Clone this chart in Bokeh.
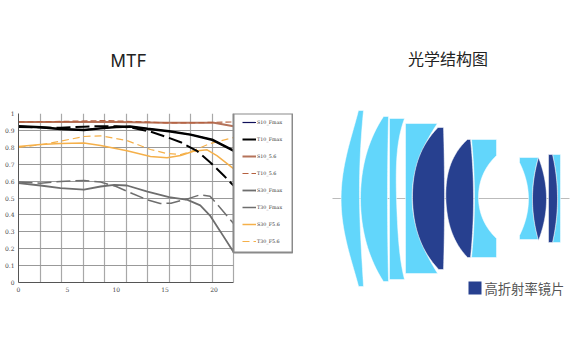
import numpy as np
from bokeh.plotting import figure
from bokeh.layouts import row
from bokeh.models import Range1d, FixedTicker, Legend, LegendItem, Title
from bokeh.core.properties import value
from bokeh.embed import file_html
from bokeh.resources import INLINE

# ---- MTF data ----
s10_fmax_x = [0, 2.25, 4.3, 6.7, 8.4, 10, 11.4, 13.2, 15.4, 17.6, 19.8, 21, 22]
s10_fmax_y = [.925, .918, .908, .903, .912, .92, .923, .91, .895, .875, .845, .81, .78]
t10_fmax_x = [0, 2.25, 4.3, 6.7, 8.4, 10, 11.4, 13.5, 15.2, 16.6, 18.3, 19.6, 21, 22]
t10_fmax_y = [.92, .918, .915, .922, .925, .925, .918, .893, .86, .83, .777, .712, .633, .574]
s10_56_x = [0, 5, 10, 15, 18, 20, 22]
s10_56_y = [.95, .95, .95, .945, .945, .945, .925]
t10_56_x = [0, 3, 6, 9, 12, 15, 18, 20, 22]
t10_56_y = [.95, .952, .955, .958, .952, .945, .945, .948, .95]
s30_fmax_x = [0, 2.25, 4.3, 6.7, 8.4, 9.8, 11.1, 13.2, 15.4, 17.3, 18.6, 19.6, 20.7, 22]
s30_fmax_y = [.588, .574, .558, .55, .568, .578, .574, .538, .505, .489, .456, .396, .298, .18]
t30_fmax_x = [0, 2.25, 4.3, 6.7, 8.4, 10, 11.7, 13.2, 14.5, 15.6, 17.3, 18.6, 19.6, 20.7, 22]
t30_fmax_y = [.595, .588, .598, .604, .594, .568, .525, .489, .468, .469, .495, .519, .511, .438, .349]
s30_f56_x = [0, 2.25, 4.3, 6.7, 8.4, 11.1, 13.5, 15.2, 16.6, 17.9, 19.3, 20.3, 22]
s30_f56_y = [.805, .817, .823, .826, .81, .78, .745, .738, .751, .777, .785, .751, .674]
t30_f56_x = [0, 2.25, 4.3, 6.7, 8.4, 11.1, 13.5, 15.2, 16.6, 17.9, 19.6, 22]
t30_f56_y = [.80, .815, .836, .864, .868, .84, .787, .763, .757, .78, .822, .858]
x_tick_labels = [0, 5, 10, 15, 20]
x_grid_values = [0, 2.2, 4.4, 6.6, 8.8, 11, 13.2, 15.4, 17.6, 19.8, 22]
y_tick_values = [0, .1, .2, .3, .4, .5, .6, .7, .8, .9, 1]
y_tick_labels = ["0", "0.1", "0.2", "0.3", "0.4", "0.5", "0.6", "0.7", "0.8", "0.9", "1"]
legend_names = ["S10_Fmax", "T10_Fmax", "S10_5.6", "T10_5.6", "S30_Fmax", "T30_Fmax", "S30_F5.6", "T30_F5.6"]
legend_box_left = [22]
legend_box_right = [28.04]
legend_box_top = [1]
legend_box_bottom = [.178]

# ---- lens outlines, traced: each lens is a list of edges (x, y control points) ----
optical_axis_x = [332, 569]
optical_axis_y = [198, 198]
lens_light = [
    [[(358, 110), (347, 150), (341, 198), (343, 230), (352, 263), (358, 286)],
     [(363, 286), (360, 233), (359, 198), (360, 150), (363, 110)]],
    [[(383, 116), (372, 137), (364, 160), (360, 198), (362, 223), (368, 250), (383, 281)],
     [(388, 281), (387, 198), (388, 116)]],
    [[(404, 118), (396, 163), (396, 198), (397, 223), (404, 279)],
     [(389, 279), (389, 118)]],
    [[(405, 123), (437, 123)],
     [(437, 123), (428, 137), (418, 160), (412, 198), (415, 227), (425, 250), (437, 273)],
     [(405, 273), (405, 123)]],
    [[(471, 139), (496, 139), (496, 155)],
     [(496, 155), (483, 173), (478, 197), (483, 220), (496, 238)],
     [(496, 257), (471, 257)],
     [(471, 257), (474, 197), (471, 139)]],
    [[(519, 157), (538, 157)],
     [(538, 157), (532, 198), (538, 239)],
     [(519, 239), (519, 235)],
     [(519, 235), (528, 198), (519, 162)]],
    [[(552, 154), (560, 154), (560, 242), (552, 242)],
     [(552, 242), (557, 198), (552, 154)]],
]
lens_dark = [
    [[(438, 127), (428, 137), (418, 160), (412, 198), (415, 227), (425, 250), (438, 269)],
     [(443, 269), (444, 198), (443, 127)]],
    [[(467, 139), (455, 153), (448, 173), (445, 197), (448, 220), (455, 240), (467, 257)],
     [(470, 257), (473, 197), (470, 139)]],
    [[(538, 157), (532, 198), (538, 240)],
     [(538, 240), (546, 198), (538, 157)]],
    [[(552, 154), (557, 198), (552, 242)],
     [(548, 242), (548, 154)]],
]
key_swatch_x = [468, 481, 481, 468]
key_swatch_y = [281, 281, 294, 294]
key_text = "高折射率镜片"
title_left = "MTF"
title_right = "光学结构图"

LIGHT = "#62d6fb"
DARK = "#27408f"
MONO = "DejaVu Serif"


def outline(edges):
    xs, ys = [], []
    for edge in edges:
        ex = [pt[0] for pt in edge]
        ey = [pt[1] for pt in edge]
        if len(edge) >= 3 and len(set(ey)) == len(ey) and ey[-1] != ey[0] and abs(ex[-1] - ex[0]) < 40:
            c = np.polyfit(ey, ex, min(len(edge) - 1, 4))
            yy = np.linspace(ey[0], ey[-1], 40)
            ex, ey = list(np.polyval(c, yy)), list(yy)
        xs += list(ex)
        ys += list(ey)
    return xs, ys


# frame 18..293 wide: the field axis runs to 22 (233px), the legend sits in the rest
p1 = figure(width=293, height=353, output_backend="svg", toolbar_location=None,
            x_range=Range1d(0, 22 * 275 / 215), y_range=Range1d(0, 1), frame_align=False,
            min_border_left=18, min_border_top=113, min_border_bottom=71, min_border_right=0,
            background_fill_color="white", border_fill_color="white",
            outline_line_color=None)

t = Title(text=title_left, text_font="Inter", text_font_size="17px", text_font_style="normal",
          text_color="#222222", align="left", offset=92, standoff=85)
p1.add_layout(t, "above")

p1.xaxis.ticker = FixedTicker(ticks=x_tick_labels)
p1.xaxis.bounds = (0, 22)
p1.yaxis.ticker = FixedTicker(ticks=y_tick_values)
p1.yaxis.major_label_overrides = {v: s for v, s in zip(y_tick_values, y_tick_labels)}
for ax in (p1.xaxis[0], p1.yaxis[0]):
    ax.major_label_text_font = MONO
    ax.major_label_text_font_size = "6px"
    ax.major_label_text_color = "#444444"
    ax.major_tick_line_color = None
    ax.minor_tick_line_color = None
    ax.major_tick_out = 0
    ax.major_tick_in = 0
    ax.minor_tick_out = 0
    ax.minor_tick_in = 0
    ax.axis_line_color = "#555555"
    ax.major_label_standoff = 4
p1.xgrid.ticker = FixedTicker(ticks=x_grid_values)
p1.ygrid.ticker = FixedTicker(ticks=y_tick_values)
p1.ygrid.cross_bounds = (0, 22)
p1.xgrid.grid_line_color = "#a8a8a8"
p1.xgrid.grid_line_width = 1.2
p1.ygrid.grid_line_color = "#999999"

by_name = {}
by_name["S10_5.6"] = p1.line(s10_56_x, s10_56_y, line_color="#b5735a", line_width=2)
by_name["T10_5.6"] = p1.line(t10_56_x, t10_56_y, line_color="#b5603f", line_width=1.2, line_dash="6 3")
by_name["S30_F5.6"] = p1.line(s30_f56_x, s30_f56_y, line_color="#f5b04a", line_width=1.5)
by_name["T30_F5.6"] = p1.line(t30_f56_x, t30_f56_y, line_color="#f5b04a", line_width=1.2, line_dash="7 4")
by_name["S30_Fmax"] = p1.line(s30_fmax_x, s30_fmax_y, line_color="#6e6e6e", line_width=1.8)
by_name["T30_Fmax"] = p1.line(t30_fmax_x, t30_fmax_y, line_color="#6e6e6e", line_width=1.5, line_dash="14 5")
by_name["T10_Fmax"] = p1.line(t10_fmax_x, t10_fmax_y, line_color="#000000", line_width=2, line_dash="14 5")
by_name["S10_Fmax"] = p1.line(s10_fmax_x, s10_fmax_y, line_color="#10105a", line_width=1.2)
p1.line(s10_fmax_x, s10_fmax_y, line_color="#000000", line_width=2.5)

p1.quad(left=legend_box_left, right=legend_box_right, top=legend_box_top, bottom=legend_box_bottom,
        fill_color="white", line_color="#8a8a8a", line_width=2)

legend = Legend(items=[LegendItem(label=n, renderers=[by_name[n]]) for n in legend_names],
                location=(224, 36), orientation="vertical",
                margin=0, padding=3, spacing=7,
                glyph_width=14, glyph_height=10, label_standoff=1,
                label_text_font=MONO, label_text_font_size="4.8px", label_text_color="#333333",
                label_height=10, label_width=24,
                border_line_color=None, level="overlay",
                background_fill_alpha=0)
p1.add_layout(legend)

p2 = figure(width=280, height=353, output_backend="svg", toolbar_location=None,
            x_range=Range1d(293, 573), y_range=Range1d(353, 0), frame_align=False,
            min_border=0, outline_line_color=None,
            background_fill_color="white", border_fill_color="white")
p2.axis.visible = False
p2.grid.visible = False
p2.line(optical_axis_x, optical_axis_y, line_color="#bbbbbb", line_width=1)
light = [outline(e) for e in lens_light]
dark = [outline(e) for e in lens_dark]
p2.patches([l[0] for l in light], [l[1] for l in light], fill_color=LIGHT, line_color="white", line_width=0.5)
p2.patches([l[0] for l in dark], [l[1] for l in dark], fill_color=DARK, line_color="white", line_width=0.5)
p2.patch(key_swatch_x, key_swatch_y, fill_color=DARK, line_color=None)
p2.text([484], [288], text=[key_text], text_font=value("Noto Sans CJK SC"), text_font_size="13.3px",
        text_color="#555555", text_baseline="middle", text_align="left")
p2.text([447.5], [57], text=[title_right], text_font=value("Noto Sans CJK SC"), text_font_size="16px",
        text_color="#222222", text_baseline="middle", text_align="center")

layout = row(p1, p2, spacing=0)
open("out.html", "w").write(file_html(layout, INLINE))
